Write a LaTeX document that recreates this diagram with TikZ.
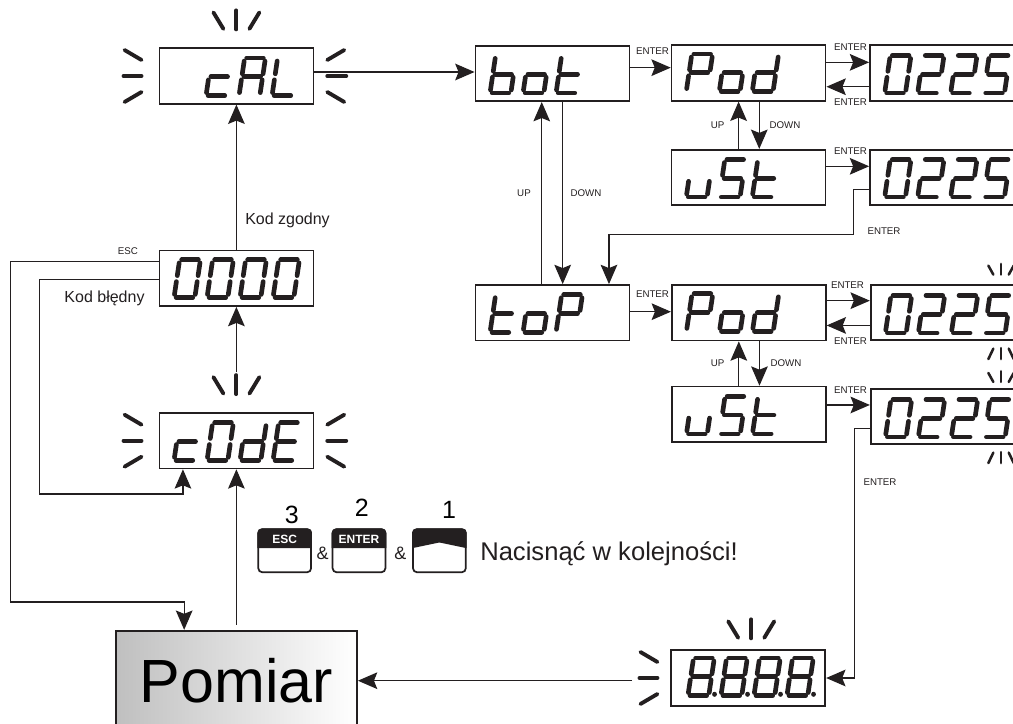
\documentclass[tikz,border=0pt]{standalone}
\usepackage{fontspec}
\setmainfont{Liberation Sans}
\usepackage{xcolor}
\usetikzlibrary{arrows.meta,calc,positioning}
\definecolor{ink}{HTML}{231F20}
\tikzset{
  disp/.style={draw=ink,line width=1.3pt,fill=white,minimum width=115.5pt,minimum height=41.6pt,inner sep=0pt},
  link/.style={-{Stealth[length=14.5pt,width=12.5pt,inset=2.5pt]},ink,line width=.85pt},
  wire/.style={ink,line width=.85pt},
  segline/.style={ink,line width=3.5pt,line cap=round},
  ray/.style={ink,line width=2.9pt,line cap=round},
  fineray/.style={ink,line width=1.9pt,line cap=round},
  enterlab/.style={inner sep=0pt,text=ink,font=\fontsize{7.3}{8}\selectfont},
  kodlab/.style={inner sep=0pt,text=ink,font=\fontsize{12}{14}\selectfont},
  keybox/.style={draw=ink,line width=1.3pt,fill=white,rounded corners=3pt,minimum width=39.6pt,minimum height=32.2pt,inner sep=0pt},
  keytxt/.style={inner sep=0pt,text=white,font=\fontsize{9}{10}\selectfont\bfseries},
  amp/.style={inner sep=0pt,text=ink,font=\fontsize{13.5}{15}\selectfont},
  ordernum/.style={inner sep=0pt,text=black,font=\fontsize{18.75}{20}\selectfont}
}
% one segment, corners in the digit's own slanted frame
\newcommand\seg[4]{\draw[segline] (#1,#2)--(#3,#4);}
\def\sgma{\seg{.1}{1}{.9}{1}}
\def\sgmb{\seg{1}{.92}{1}{.58}}
\def\sgmc{\seg{1}{.42}{1}{.08}}
\def\sgmd{\seg{.1}{0}{.9}{0}}
\def\sgme{\seg{0}{.42}{0}{.08}}
\def\sgmf{\seg{0}{.92}{0}{.58}}
\def\sgmg{\seg{.1}{.5}{.9}{.5}}
\def\sgmp{\seg{1.27}{.03}{1.27}{.04}}
\newcommand\segchar[2]{\expandafter\def\csname chr#1\endcsname{#2}}
\segchar{c}{d,e,g}
\segchar{A}{a,b,c,e,f,g}
\segchar{L}{d,e,f}
\segchar{b}{c,d,e,f,g}
\segchar{o}{c,d,e,g}
\segchar{t}{d,e,f,g}
\segchar{P}{a,b,e,f,g}
\segchar{d}{b,c,d,e,g}
\segchar{u}{c,d,e}
\segchar{S}{a,c,d,f,g}
\segchar{0}{a,b,c,d,e,f}
\segchar{2}{a,b,d,e,g}
\segchar{5}{a,c,d,f,g}
\segchar{E}{a,d,e,f,g}
\segchar{8}{a,b,c,d,e,f,g,p}
% #1 box, #2 #3 offset of first digit from its south west corner, #4 characters
\newcommand\segtext[4]{%
  \foreach \ch [count=\i from 0] in {#4}{%
    \begin{scope}[shift={($(#1.south west)+(#2+\i*33,-#3)$)},x=15.6pt,y={(4.2pt,28.2pt)}]
      \expandafter\let\expandafter\seglist\csname chr\ch\endcsname
      \foreach \sg in \seglist {\csname sgm\sg\endcsname}
    \end{scope}}}
\newcommand\raystop[1]{%
  \foreach \ax/\ay/\bx/\by in {-23/-35/-13/-18.5,0/-37/0/-18,23/-35/13/-18.5}
    {\draw[ray] ($(#1)+(\ax,\ay)$) -- ($(#1)+(\bx,\by)$);}}
\newcommand\raysleft[1]{%
  \foreach \ax/\ay/\bx/\by in {-34/-26/-17/-16,-35/0/-17/0,-34/26/-17/16}
    {\draw[ray] ($(#1)+(\ax,\ay)$) -- ($(#1)+(\bx,\by)$);}}
\newcommand\raysright[1]{%
  \foreach \ax/\ay/\bx/\by in {30/-26/13/-16,32/0/13/0,30/26/13/16}
    {\draw[ray] ($(#1)+(\ax,\ay)$) -- ($(#1)+(\bx,\by)$);}}
\newcommand\fineup[1]{%
  \foreach \ax/\ay/\bx/\by in {-12.7/-18.3/-7.7/-9.3,0/-20/0/-9.3,12.7/-18.3/7.7/-9.3}
    {\draw[fineray] ($(#1)+(\ax,\ay)$) -- ($(#1)+(\bx,\by)$);}}
\newcommand\finedown[1]{%
  \foreach \ax/\ay/\bx/\by in {-12.7/18/-7.7/7.5,0/18/0/7,12.7/18/7.7/7.5}
    {\draw[fineray] ($(#1)+(\ax,\ay)$) -- ($(#1)+(\bx,\by)$);}}

\begin{document}
\begin{tikzpicture}[x=.75pt,y=-.75pt]
\path[use as bounding box,clip] (0,0) rectangle (1013,724);
\fill[white] (0,0) rectangle (1013,724);

% displays
\node[disp] (cal) at (236.4,76) {};
\node[disp] (zero) at (236.4,278.3) {};
\node[disp] (code) at (236.4,440.7) {};
\node[disp] (bot) at (552.4,73.4) {};
\node[disp] (top) at (552.4,312.7) {};
\node[disp] (podbot) at (748.6,73) {};
\node[disp] (ustbot) at (748.6,177.5) {};
\node[disp] (podtop) at (748.8,312.8) {};
\node[disp] (usttop) at (748.8,414.3) {};
\node[disp] (valpodbot) at (947,73) {};
\node[disp] (valustbot) at (947,177.5) {};
\node[disp] (valpodtop) at (947.7,312.5) {};
\node[disp] (valusttop) at (947.7,416.5) {};
\node[disp] (test) at (748.3,678) {};
\node[draw=ink,line width=1.8pt,left color=black!25,right color=white,minimum width=180.5pt,minimum height=74.5pt,inner sep=0pt,text=black,font=\fontsize{45.75}{50}\selectfont] (pom) at (236.4,680.7) {Pomiar};

% readouts
\segtext{cal}{47.5}{9}{c,A,L}
\segtext{zero}{15.5}{9.5}{0,0,0,0}
\segtext{code}{15.5}{9}{c,0,d,E}
\segtext{bot}{15.5}{9}{b,o,t}
\segtext{top}{15.5}{9}{t,o,P}
\segtext{podbot}{15.5}{10}{P,o,d}
\segtext{ustbot}{15.5}{9}{u,S,t}
\segtext{podtop}{15.5}{10}{P,o,d}
\segtext{usttop}{15.5}{9}{u,S,t}
\segtext{valpodbot}{15.5}{8.5}{0,2,2,5}
\segtext{valustbot}{15.5}{9}{0,2,2,5}
\segtext{valpodtop}{15.5}{8}{0,2,2,5}
\segtext{valusttop}{15.5}{8}{0,2,2,5}
\segtext{test}{17.5}{11}{8,8,8,8}

% connectors
\coordinate (testout) at (632,680.7);
\coordinate (escturn) at (10.3,602);
\coordinate (kodturn) at (39.7,494);
\coordinate (botturn) at (853.3,234.7);
\draw[link] (zero.north) -- (cal.south);
\draw[link] ([yshift=29.8pt]code.north) -- (zero.south);
\draw[link] ([yshift=4pt]pom.north) -- (code.south);
\draw[link] ([yshift=3pt]cal.east) -- ([yshift=3pt]cal.east -| bot.west);
\draw[link] ([yshift=12.75pt]zero.west) -| (escturn) -| ($(pom.north west)+(69.3,0)$);
\draw[link] ([yshift=-.75pt]zero.west) -| (kodturn) -| ($(code.south west)+(24.4,0)$);
\draw[link] ([yshift=4.3pt]bot.east) -- ([yshift=4.3pt]bot.east -| podbot.west);
\draw[link] ([yshift=8pt]podbot.east) -- ([yshift=8pt]podbot.east -| valpodbot.west);
\draw[link] ([yshift=-10.3pt]valpodbot.west) -- ([yshift=-10.3pt]valpodbot.west -| podbot.east);
\draw[link] ([xshift=8pt]podbot.south) -- ([xshift=8pt]ustbot.north);
\draw[link] ([xshift=-7.5pt]ustbot.north) -- ([xshift=-7.5pt]podbot.south);
\draw[link] ([yshift=8.4pt]ustbot.east) -- ([yshift=8.4pt]ustbot.east -| valustbot.west);
\draw[link] ([yshift=-8.9pt]valustbot.west) -| (botturn) -| ($(top.north east)+(-21.3,0)$);
\draw[link] ([xshift=-8pt]top.north) -- ([xshift=-8pt]bot.south);
\draw[link] ([xshift=7.7pt]bot.south) -- ([xshift=7.7pt]top.north);
\draw[link] ([yshift=.75pt]top.east) -- ([yshift=.75pt]top.east -| podtop.west);
\draw[link] ([yshift=9.1pt]podtop.east) -- ([yshift=9.1pt]podtop.east -| valpodtop.west);
\draw[link] ([yshift=-9.7pt]valpodtop.west) -- ([yshift=-9.7pt]valpodtop.west -| podtop.east);
\draw[link] ([xshift=8pt]podtop.south) -- ([xshift=8pt]usttop.north);
\draw[link] ([xshift=-7.5pt]usttop.north) -- ([xshift=-7.5pt]podtop.south);
\draw[link] ([yshift=7pt]usttop.east) -- ([yshift=7pt]usttop.east -| valusttop.west);
\draw[link] ([yshift=-8.9pt]valusttop.west) -| ($(test.east)+(28.3,0)$) -- (test.east);
\draw[link] (testout) -- (testout -| pom.east);

% blinking
\raystop{cal.north}
\raysleft{cal.west}
\raysright{cal.east}
\raystop{code.north}
\raysleft{code.west}
\raysright{code.east}
\raystop{[xshift=2.2pt,yshift=-5.2pt]test.north}
\raysleft{[xshift=3pt]test.west}
\fineup{[xshift=40pt]valpodtop.north}
\finedown{[xshift=40pt]valpodtop.south}
\fineup{[xshift=40pt,yshift=-2.5pt]valusttop.north}
\finedown{[xshift=40pt]valusttop.south}

% labels
\node[kodlab] (kodok) at (287.5,220) {Kod zgodny};
\node[kodlab] (kodbad) at (104.5,298) {Kod błędny};
\node[enterlab] (escl) at (128,251) {ESC};
\node[enterlab] (e1) at (652.5,51) {ENTER};
\node[enterlab] (e2) at (850.5,47) {ENTER};
\node[enterlab] (e3) at (850.5,102) {ENTER};
\node[enterlab] (e4) at (850.5,151) {ENTER};
\node[enterlab] (e5) at (884,231) {ENTER};
\node[enterlab] (e6) at (652.5,294) {ENTER};
\node[enterlab] (e7) at (847.5,285) {ENTER};
\node[enterlab] (e8) at (850.5,341) {ENTER};
\node[enterlab] (e9) at (850.5,390) {ENTER};
\node[enterlab] (e10) at (880,481.7) {ENTER};
\node[enterlab] (u1) at (524,193) {UP};
\node[enterlab] (d1) at (586,193) {DOWN};
\node[enterlab] (u2) at (717.7,125) {UP};
\node[enterlab] (d2) at (785,125) {DOWN};
\node[enterlab] (u3) at (717.7,363.3) {UP};
\node[enterlab] (d3) at (786,363.3) {DOWN};

% keys
\node[keybox] (kesc) at (284.7,550.8) {};
\node[keybox] (kent) at (359,550.8) {};
\node[keybox] (kup) at (439.4,550.8) {};
\fill[ink] ($(kesc.north west)+(0,19.7)$) [rounded corners=3pt] -- (kesc.north west) -- (kesc.north east) [sharp corners] -- ($(kesc.north east)+(0,19.7)$) -- cycle;
\fill[ink] ($(kent.north west)+(0,19.7)$) [rounded corners=3pt] -- (kent.north west) -- (kent.north east) [sharp corners] -- ($(kent.north east)+(0,19.7)$) -- cycle;
\fill[ink] ($(kup.north west)+(0,19.7)$) [rounded corners=3pt] -- (kup.north west) -- (kup.north east) [sharp corners] -- ($(kup.north east)+(0,19.7)$) -- ($(kup.north)+(0,14)$) -- cycle;
\node[keytxt] (kesct) at ($(kesc.north)+(0,10.5)$) {ESC};
\node[keytxt] (kentt) at ($(kent.north)+(0,10.5)$) {ENTER};
\node[amp] (a1) at (322.7,553) {\&};
\node[amp] (a2) at (400.3,553) {\&};
\node[ordernum] (n3) at (291.7,515) {3};
\node[ordernum] (n2) at (361.7,507.3) {2};
\node[ordernum] (n1) at (449,510) {1};
\node[anchor=west,inner sep=0pt,text=ink,font=\fontsize{19.2}{22}\selectfont] (order) at (480,554) {Nacisnąć w kolejności!};
\end{tikzpicture}
\end{document}
